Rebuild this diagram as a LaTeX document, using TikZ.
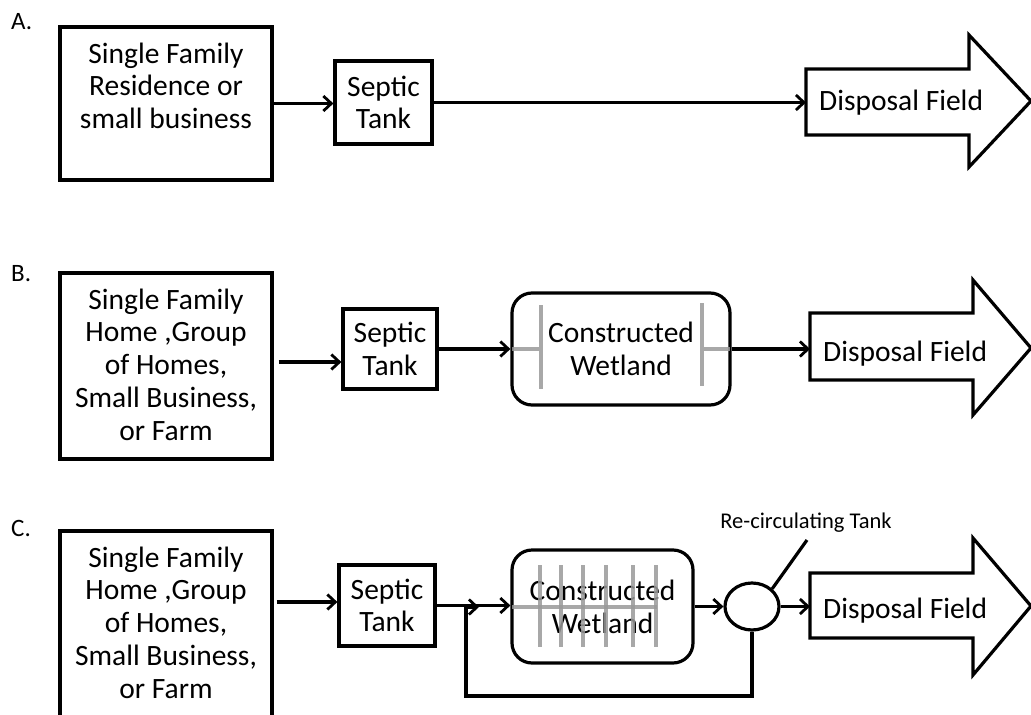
\documentclass[tikz,border=0pt]{standalone}
\usepackage{fontspec}
\setmainfont{Carlito}
\usetikzlibrary{arrows.meta,shapes.geometric}
\tikzset{
  lw/.style={line width=3.2pt},
  box/.style={draw,lw,inner sep=0pt,align=center},
  txt/.style={inner sep=0pt,align=center,font=\fontsize{29.5}{32.8}\selectfont},
  lettr/.style={inner sep=0pt,anchor=base west,font=\fontsize{25}{28}\selectfont},
  arr/.style={lw,-{Straight Barb[length=8pt,width=15pt,line width=2.8pt]}},
  plain/.style={lw},
  grey/.style={line width=3.4pt,draw=black!40,opacity=0.85},
  dfield/.style={draw,lw,fill=white,line join=miter},
}
\begin{document}
\begin{tikzpicture}[x=1pt,y=-1pt]
\clip (0,0) rectangle (1031,715);
\fill[white] (0,0) rectangle (1031,715);

% ---------- Row A ----------
\node[lettr] (la) at (11,29) {A.};
\node[box,minimum width=212pt,minimum height=153pt] (A1) at (166,103.5) {};
\node[txt,anchor=north] (A1t) at (166,42.5) {Single Family\\Residence or\\small business};
\node[box,txt,draw,lw,minimum width=97pt,minimum height=83pt] (SA) at (383.5,102.5) {Septic\\Tank};
\draw[dfield] (806,69) -- (969,69) -- (969,35) -- (1031,101) -- (969,167) -- (969,135) -- (806,135) -- cycle;
\coordinate (dA) at (806,102);
\node[txt,anchor=base west] (DA) at (819,110) {Disposal Field};
\draw[arr] (A1.east) -- (A1.east -| SA.west);
\draw[arr] (SA.east) -- (SA.east -| dA);

% ---------- Row B ----------
\node[lettr] (lb) at (11,281) {B.};
\node[box,minimum width=212pt,minimum height=186pt] (B1) at (166,366) {};
\node[txt,anchor=north] (B1t) at (166,288.5) {Single Family\\Home ,Group\\of Homes,\\Small Business,\\or Farm};
\node[box,txt,draw,lw,minimum width=94pt,minimum height=80pt] (SB) at (390,349) {Septic\\Tank};
\node[box,txt,draw,lw,rounded corners=20pt,minimum width=218pt,minimum height=112pt] (WB) at (621,349) {Constructed\\Wetland};
\draw[grey] (512,349) -- (541,349) (541,305) -- (541,389);
\draw[grey] (702,303) -- (702,386) (702,349) -- (730,349);
\draw[dfield] (810,313) -- (973,313) -- (973,280) -- (1031,348) -- (973,415) -- (973,380) -- (810,380) -- cycle;
\coordinate (dB) at (810,349);
\node[txt,anchor=base west] (DB) at (823,361) {Disposal Field};
\coordinate (b0) at ([xshift=5pt,yshift=4pt]B1.east);
\draw[arr] (b0) -- (b0 -| SB.west);
\draw[arr] (SB.east) -- (WB.west);
\draw[arr] (WB.east) -- (WB.east -| dB);

% ---------- Row C ----------
\node[lettr] (lc) at (11,536) {C.};
\node[box,minimum width=212pt,minimum height=186pt] (C1) at (166,624) {};
\node[txt,anchor=north] (C1t) at (166,546.5) {Single Family\\Home ,Group\\of Homes,\\Small Business,\\or Farm};
\node[box,txt,draw,lw,minimum width=96pt,minimum height=81pt] (SC) at (387,605.5) {Septic\\Tank};
\node[box,txt,draw,lw,rounded corners=20pt,minimum width=181pt,minimum height=113pt] (WC) at (602.5,606.5) {Constructed\\Wetland};
\draw[grey] (512,607) -- (657,607);
\foreach \gx in {540,561,583,606,633,656} \draw[grey] (\gx,565) -- (\gx,647);
\node[draw,lw,ellipse,minimum width=54pt,minimum height=47pt,inner sep=0pt] (R) at (752,606.5) {};
\draw[dfield] (810,573) -- (973,573) -- (973,538) -- (1031,606) -- (973,675) -- (973,638) -- (810,638) -- cycle;
\coordinate (dC) at (810,606);
\node[txt,anchor=base west] (DC) at (823,618) {Disposal Field};
\node[inner sep=0pt,anchor=base,font=\fontsize{22.5}{26}\selectfont] (RT) at (806,528) {Re-circulating Tank};
\coordinate (rl) at (807,540);
\coordinate (c0) at ([xshift=3pt,yshift=22pt]C1.east);
\draw[arr] (c0) -- (c0 -| SC.west);
\draw[arr] (SC.east) -- (SC.east -| WC.west);
\coordinate (fb) at (466,696);
\coordinate (jt) at (479,607);
\draw[arr] (R.south) |- (fb) |- (jt);
\draw[arr] (WC.east) -- (R.west);
\draw[arr] (R.east) -- (R.east -| dC);
\draw[plain] (R.north east) -- (rl);
\end{tikzpicture}
\end{document}
